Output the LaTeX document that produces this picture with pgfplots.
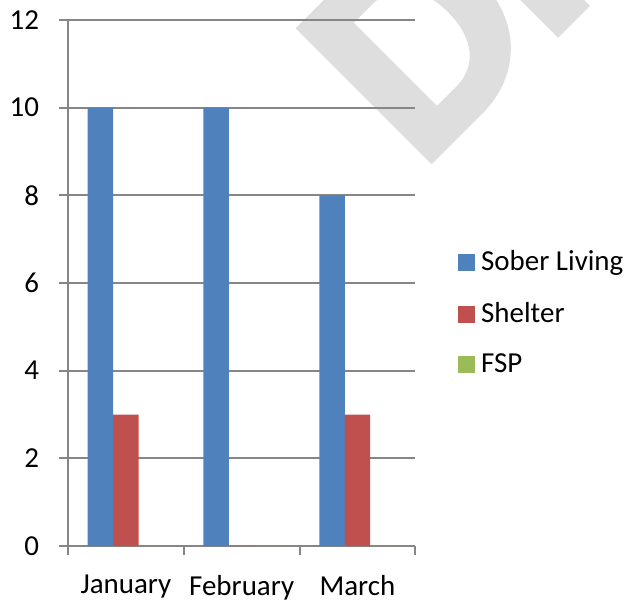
\documentclass[border=0pt]{standalone}
\usepackage{pgfplots}
\pgfplotsset{compat=1.18}
\usepackage{fontspec}
\setmainfont{Carlito}
\newfontfamily\wmfont[FakeBold=3]{Carlito Bold}

\definecolor{sober}{HTML}{4F81BD}
\definecolor{shelter}{HTML}{C0504D}
\definecolor{fsp}{HTML}{9BBB59}
\definecolor{axgray}{HTML}{868686}
\definecolor{wm}{HTML}{DEDEDE}

\begin{document}
\fontsize{14.5bp}{17bp}\selectfont
\begin{tikzpicture}
\begin{axis}[
  name=ax, set layers, clip=false,
  scale only axis, width=174bp, height=263.5bp,
  ybar=0pt, bar width=0.22,
  xmin=-0.5, xmax=2.5, ymin=0, ymax=12,
  xtick={0,1,2}, xticklabels={January,February,March},
  minor xtick={-0.5,0.5,1.5,2.5},
  ytick={0,2,...,12},
  axis x line=bottom, axis y line=left,
  axis line style={-, draw=axgray, line width=1bp},
  tick align=outside,
  major tick length=4.5bp, minor tick length=4.5bp,
  tick style={draw=axgray, line width=1bp},
  major x tick style={draw=none},
  ymajorgrids, grid style={draw=axgray, line width=1bp},
  /pgf/number format/assume math mode=true,
  yticklabel style={xshift=-5bp},
  xticklabel style={yshift=-5bp},
  legend style={draw=none, fill=none, at={(rel axis cs:1,0.442)}, anchor=west,
    xshift=21bp, row sep=10bp, column sep=1.5bp, inner sep=0pt, nodes={inner sep=1.75bp}},
  legend cell align=left,
  legend image code/.code={\fill[#1] (0bp,-4.25bp) rectangle (8.5bp,4.25bp);},
]
\begin{pgfonlayer}{axis background}
\node[overlay, rotate=45, anchor=base west, inner sep=0pt, text=wm,
  font=\fontsize{142bp}{142bp}\selectfont\wmfont] at (axis cs:2.54,8.58) {DRAFT};
\end{pgfonlayer}

\addplot[fill=sober, draw=none] coordinates {(0,10) (1,10) (2,8)};
\addlegendentry{Sober Living}
\addplot[fill=shelter, draw=none] coordinates {(0,3) (1,0) (2,3)};
\addlegendentry{Shelter}
\addplot[fill=fsp, draw=none] coordinates {(0,0) (1,0) (2,0)};
\addlegendentry{FSP}
\end{axis}
\path ([shift={(-33.5bp,-26.5bp)}]ax.south west) rectangle ([shift={(106bp,10bp)}]ax.north east);
\end{tikzpicture}
\end{document}
